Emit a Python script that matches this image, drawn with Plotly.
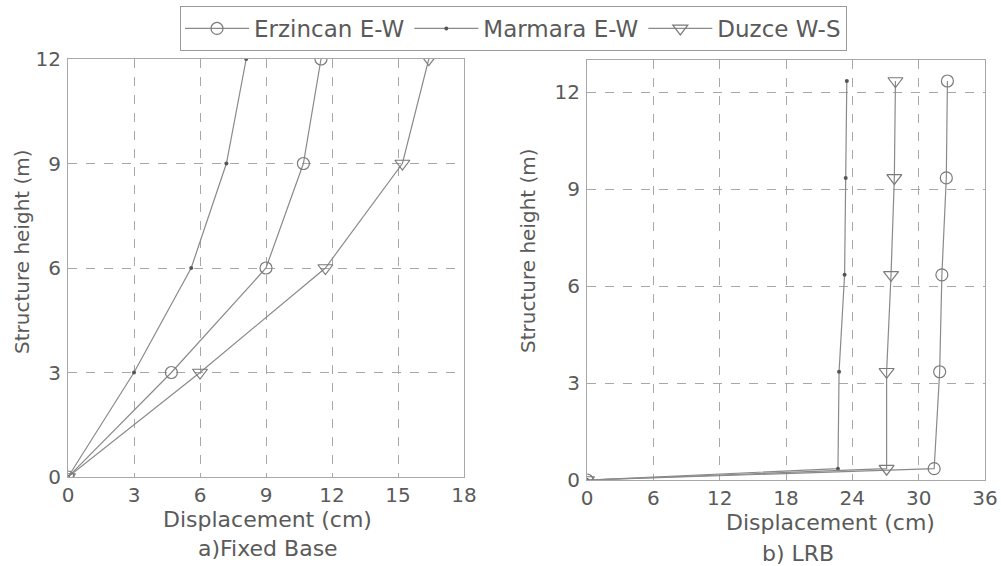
import plotly.graph_objects as go

# Storey heights (m)
height_fixed = [0, 3, 6, 9, 12]
height_lrb = [0, 0.35, 3.35, 6.35, 9.35, 12.35]

# a) Fixed base: peak displacement (cm)
fixed_erzincan = [0, 4.7, 9.0, 10.7, 11.5]
fixed_marmara = [0, 3.0, 5.6, 7.2, 8.1]
fixed_duzce = [0, 6.0, 11.7, 15.2, 16.4]

# b) LRB isolated: peak displacement (cm)
lrb_erzincan = [0, 31.4, 31.9, 32.1, 32.5, 32.6]
lrb_marmara = [0, 22.7, 22.8, 23.3, 23.4, 23.5]
lrb_duzce = [0, 27.1, 27.1, 27.5, 27.8, 27.9]

series_names = ["Erzincan E-W", "Marmara E-W", "Duzce W-S"]

FONT = "DejaVu Sans, Verdana, sans-serif"
TXT = "#5a5a5a"
LINE = "#8a8a8a"
GRID = "#a8a8a8"

markers = {
    "Erzincan E-W": dict(symbol="circle-open", size=12, color="#7a7a7a", line=dict(width=1.2, color="#7a7a7a")),
    "Marmara E-W": dict(symbol="circle", size=4, color="#555555"),
    "Duzce W-S": dict(symbol="triangle-down-open", size=13, color="#7a7a7a", line=dict(width=1.2, color="#7a7a7a")),
}

fig = go.Figure()

left = {"Erzincan E-W": fixed_erzincan, "Marmara E-W": fixed_marmara, "Duzce W-S": fixed_duzce}
right = {"Erzincan E-W": lrb_erzincan, "Marmara E-W": lrb_marmara, "Duzce W-S": lrb_duzce}

for name in series_names:
    fig.add_trace(go.Scatter(
        x=left[name], y=height_fixed, mode="lines+markers", name=name,
        line=dict(color=LINE, width=1.2), marker=markers[name],
        xaxis="x", yaxis="y", showlegend=True, legendgroup=name,
    ))
for name in series_names:
    fig.add_trace(go.Scatter(
        x=right[name], y=height_lrb, mode="lines+markers", name=name,
        line=dict(color=LINE, width=1.2), marker=markers[name],
        xaxis="x2", yaxis="y2", showlegend=False, legendgroup=name,
    ))

W, H = 1002, 566

def px(x):
    return x / W

def py(y):
    return 1 - y / H

axis_common = dict(
    showline=True, mirror=True, linecolor=GRID, linewidth=1,
    showgrid=True, gridcolor=GRID, griddash="dash", gridwidth=1,
    zeroline=False, ticks="", automargin=False,
    tickfont=dict(family=FONT, size=20, color=TXT),
)
xaxis_common = dict(ticklabelstandoff=0, **axis_common)
yaxis_common = dict(ticklabelstandoff=2, **axis_common)

fig.update_layout(
    width=W, height=H,
    margin=dict(l=0, r=0, t=0, b=0, autoexpand=False),
    paper_bgcolor="white", plot_bgcolor="white",
    font=dict(family=FONT, color=TXT),
    xaxis=dict(domain=[px(68), px(464)], range=[0, 18], dtick=3, anchor="y", **xaxis_common),
    yaxis=dict(domain=[py(477), py(59)], range=[0, 12], dtick=3, anchor="x", **yaxis_common),
    xaxis2=dict(domain=[px(587), px(985)], range=[0, 36], dtick=6, anchor="y2", **xaxis_common),
    yaxis2=dict(domain=[py(480), py(60)], range=[0, 13], dtick=3, anchor="x2", **yaxis_common),
    legend=dict(
        orientation="h", x=px(180), y=py(6), xanchor="left", yanchor="top",
        bordercolor="#9a9a9a", borderwidth=1, bgcolor="white",
        font=dict(family=FONT, size=23, color=TXT),
        itemwidth=64, tracegroupgap=0,
    ),
    showlegend=True,
)

annotations = [
    dict(text="Displacement (cm)", x=px(267), y=py(519), size=22),
    dict(text="Displacement (cm)", x=px(830), y=py(522), size=22),
    dict(text="a)Fixed Base", x=px(268), y=py(548), size=22),
    dict(text="b) LRB", x=px(798), y=py(553), size=22),
    dict(text="Structure height (m)", x=px(22), y=py(252), size=20, textangle=-90),
    dict(text="Structure height (m)", x=px(528), y=py(251), size=20, textangle=-90),
]
for a in annotations:
    size = a.pop("size")
    fig.add_annotation(
        xref="paper", yref="paper", xanchor="center", yanchor="middle",
        showarrow=False, font=dict(family=FONT, size=size, color=TXT), **a,
    )

fig.write_html("out.html")
